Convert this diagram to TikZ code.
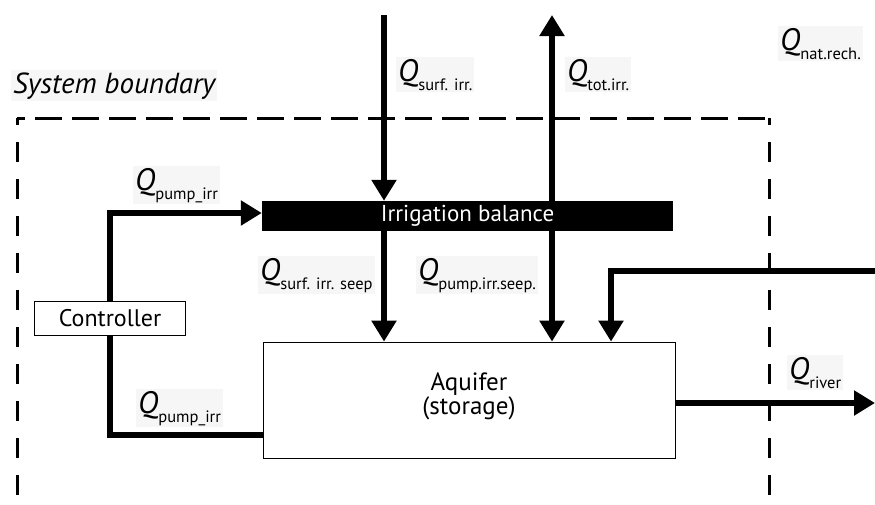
\documentclass[tikz,border=0pt]{standalone}
\usepackage{fontspec}
\setmainfont{PT Sans}
\usetikzlibrary{arrows.meta}

% flow label: italic Q with a lowered subscript
\newcommand\flowQ[1]{{\fontsize{31}{31}\selectfont\itshape Q}\raisebox{-9pt}{\fontsize{16.5}{16.5}\selectfont #1}}

\tikzset{
  flow/.style={line width=6pt, line join=miter},
  tip/.style={-{Triangle[width=24pt,length=21pt]}},
  boundary/.style={line width=3pt},
  box/.style={draw, line width=0.8pt, fill=white, inner sep=0pt},
  lab/.style={anchor=base west, fill={rgb,255:red,246;green,246;blue,246}, inner sep=2pt},
}

\begin{document}
\begin{tikzpicture}[x=1pt,y=-1pt]
\useasboundingbox (0,0) rectangle (875,504);

% system boundary (dashed, open at the bottom)
\draw[boundary, dash pattern=on 27pt off 10pt, dash phase=19pt] (17,118) -- (769,118);
\draw[boundary, dash pattern=on 20pt off 17pt, dash phase=13pt] (17,118) -- (17,504);
\draw[boundary, dash pattern=on 20pt off 17pt, dash phase=13pt] (769,118) -- (769,504);
\node[lab, font=\fontsize{29}{29}\selectfont\itshape] (sb) at (11,93) {System boundary};

% blocks
\node[box, minimum width=151pt, minimum height=34pt, font=\fontsize{24}{24}\selectfont] (ctrl) at (110,318) {Controller};
\node[fill=black, text=white, minimum width=411pt, minimum height=30pt, inner sep=0pt, font=\fontsize{23}{23}\selectfont] (bal) at (467.5,216) {Irrigation balance};
\node[box, minimum width=412pt, minimum height=116pt] (aq) at (469,400) {};
\node[align=center, font=\fontsize{25}{24}\selectfont] (aqt) at (469,396) {Aquifer\\(storage)};

% free ends of the connectors
\coordinate (sin) at (384,15);
\coordinate (tout) at (552,15);
\coordinate (rin) at (875,271);
\coordinate (rturn) at (611,271);
\coordinate (rout) at (875,403);

% pumping from the controller
\draw[flow, tip] (ctrl.north) |- ([yshift=3pt]bal.west);
\draw[flow] (ctrl.south) |- ([yshift=-35pt]aq.west);

% surface irrigation and total irrigation
\draw[flow, tip] (sin) -- (sin |- bal.north);
\draw[flow, tip] (tout |- bal.north) -- (tout);

% seepage to the aquifer
\draw[flow, tip] (sin |- bal.south) -- (sin |- aq.north);
\draw[flow, tip] (tout |- bal.south) -- (tout |- aq.north);

% natural recharge and river outflow
\draw[flow, tip] (rin) -- (rturn) -- (rturn |- aq.north);
\draw[flow, tip] (aq.east |- rout) -- (rout);

% flow labels
\node[lab] (qnat) at (778,50) {\flowQ{nat.rech.}};
\node[lab] (qtot) at (565,81) {\flowQ{tot.irr.}};
\node[lab] (qsurf) at (396,81) {\flowQ{surf. irr.}};
\node[lab] (qp1) at (133,190) {\flowQ{pump\_irr}};
\node[lab] (qp2) at (136,413) {\flowQ{pump\_irr}};
\node[lab] (qss) at (258,280) {\flowQ{surf. irr. seep}};
\node[lab] (qps) at (416,280) {\flowQ{pump.irr.seep.}};
\node[lab] (qriv) at (787,379) {\flowQ{river}};
\end{tikzpicture}
\end{document}
